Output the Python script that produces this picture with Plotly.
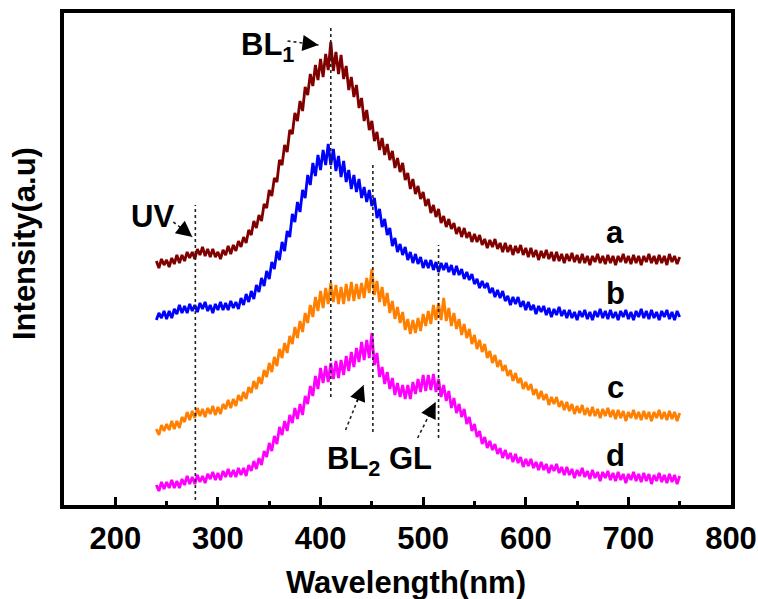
import plotly.graph_objects as go

# wavelength grid (nm), 2.5 nm step from 240 to 750
wavelength = [240 + 2.5 * i for i in range(205)]

curve_a = [244, 237, 246, 240, 245, 238, 247, 241, 250, 242, 250, 244, 253, 247, 253, 246, 256, 250, 258, 249,
           256, 248, 256, 248, 253, 246, 255, 250, 259, 251, 260, 254, 264, 258, 268, 262, 275, 270, 284, 277,
           290, 284, 301, 297, 315, 309, 327, 323, 345, 340, 360, 353, 375, 371, 392, 384, 404, 394, 418, 410,
           431, 419, 440, 425, 446, 428, 451, 435, 463, 434, 453, 431, 450, 426, 439, 415, 428, 408, 420, 397,
           407, 384, 395, 375, 384, 364, 373, 355, 367, 350, 361, 345, 354, 337, 347, 333, 342, 325, 332, 316,
           326, 311, 319, 306, 313, 299, 306, 292, 300, 288, 296, 282, 289, 278, 286, 276, 282, 271, 278, 268,
           277, 267, 273, 263, 271, 263, 270, 260, 266, 257, 265, 258, 266, 256, 262, 253, 262, 253, 260, 250,
           259, 252, 260, 250, 257, 248, 257, 248, 255, 245, 254, 247, 255, 246, 253, 244, 253, 244, 251, 242,
           251, 244, 252, 243, 250, 242, 251, 242, 249, 240, 249, 243, 251, 242, 249, 241, 250, 242, 249, 240,
           249, 243, 251, 242, 249, 241, 250, 242, 249, 240, 249, 243, 251, 242, 249, 241, 250, 242, 249, 240,
           251, 243, 249, 241, 248]

curve_b = [185, 192, 187, 194, 186, 194, 187, 196, 191, 200, 192, 199, 192, 201, 194, 200, 193, 202, 196, 203,
           194, 200, 192, 201, 195, 203, 195, 202, 195, 204, 197, 203, 196, 207, 200, 211, 203, 214, 206, 220,
           213, 227, 219, 234, 226, 243, 236, 254, 245, 263, 254, 274, 268, 291, 283, 303, 293, 315, 307, 330,
           320, 342, 329, 350, 335, 355, 340, 361, 340, 356, 334, 349, 328, 344, 323, 335, 316, 330, 313, 326,
           307, 318, 303, 315, 299, 307, 287, 296, 278, 286, 270, 277, 259, 267, 253, 261, 250, 258, 245, 253,
           242, 251, 241, 248, 237, 245, 237, 245, 235, 243, 233, 242, 235, 242, 233, 240, 230, 239, 230, 236,
           226, 233, 225, 231, 221, 226, 217, 224, 217, 222, 212, 217, 208, 215, 207, 214, 204, 209, 200, 208,
           201, 208, 198, 204, 195, 203, 195, 200, 191, 199, 193, 199, 190, 197, 188, 196, 190, 198, 189, 195,
           187, 195, 187, 193, 185, 194, 188, 195, 186, 193, 185, 194, 188, 196, 187, 194, 186, 195, 187, 193,
           185, 194, 188, 195, 186, 193, 185, 194, 188, 196, 187, 194, 186, 195, 187, 193, 185, 194, 188, 195,
           186, 193, 185, 194, 188]

curve_c = [76, 70, 80, 74, 81, 75, 84, 76, 84, 77, 88, 83, 93, 85, 94, 87, 97, 89, 96, 88,
           97, 91, 99, 90, 98, 91, 101, 96, 105, 97, 106, 99, 110, 104, 113, 106, 118, 112, 124, 116,
           128, 121, 135, 128, 142, 133, 148, 139, 156, 147, 162, 152, 169, 161, 178, 167, 184, 173, 192, 182,
           200, 188, 208, 194, 214, 197, 217, 201, 222, 203, 220, 201, 218, 201, 221, 204, 223, 204, 221, 206,
           222, 207, 227, 212, 236, 210, 224, 203, 218, 199, 212, 192, 204, 186, 198, 182, 193, 175, 186, 171,
           185, 172, 187, 174, 191, 179, 194, 181, 200, 185, 202, 185, 207, 184, 197, 179, 192, 176, 186, 170,
           181, 167, 176, 161, 170, 156, 165, 153, 161, 147, 154, 142, 150, 138, 145, 134, 140, 129, 135, 124,
           132, 122, 127, 116, 123, 115, 121, 110, 116, 106, 114, 105, 111, 100, 108, 101, 108, 98, 104, 95,
           103, 94, 101, 91, 99, 92, 100, 90, 97, 89, 98, 89, 96, 87, 96, 89, 97, 88, 95, 86,
           95, 87, 94, 84, 93, 87, 95, 86, 93, 85, 94, 86, 93, 84, 93, 87, 95, 86, 93, 85,
           94, 86, 93, 84, 92]

curve_d = [20, 14, 23, 16, 23, 17, 25, 17, 24, 17, 26, 20, 29, 21, 28, 21, 30, 23, 29, 22,
           31, 26, 33, 25, 32, 25, 34, 28, 36, 28, 35, 28, 37, 30, 37, 29, 40, 34, 44, 36,
           47, 40, 54, 48, 62, 54, 69, 61, 78, 70, 84, 74, 90, 82, 97, 86, 101, 90, 109, 101,
           119, 109, 129, 116, 137, 122, 139, 123, 142, 126, 144, 127, 145, 130, 149, 134, 153, 138, 157, 143,
           163, 145, 165, 147, 172, 140, 152, 128, 138, 121, 133, 116, 127, 110, 122, 108, 120, 106, 120, 106,
           123, 111, 126, 113, 130, 114, 130, 115, 131, 113, 126, 108, 120, 104, 114, 97, 107, 92, 101, 88,
           96, 81, 88, 74, 81, 68, 74, 61, 68, 57, 64, 55, 61, 51, 57, 47, 55, 46, 52, 43,
           51, 42, 48, 38, 46, 39, 46, 37, 43, 35, 43, 35, 41, 32, 40, 34, 41, 32, 38, 30,
           38, 30, 36, 27, 35, 29, 37, 28, 34, 26, 35, 27, 33, 24, 33, 27, 34, 25, 32, 24,
           33, 25, 31, 22, 31, 25, 33, 24, 31, 23, 32, 24, 31, 21, 30, 24, 32, 23, 30, 22,
           31, 23, 30, 21, 29]

series = [("a", curve_a, "#800000"), ("b", curve_b, "#0000FF"),
          ("c", curve_c, "#FF8000"), ("d", curve_d, "#FF00FF")]

x_ticks = [200, 300, 400, 500, 600, 700, 800]
x_tick_labels = ["200", "300", "400", "500", "600", "700", "800"]

# dotted marker lines: (x, y_bottom, y_top)
marker_lines = [(278, 5, 300), (410, 108, 477), (451, 73, 340), (515, 67, 260)]
# arrows: (tail_x, tail_y, tip_x, tip_y)
arrows = [(367.8, 464, 398.0, 460), (256.6, 283, 275.1, 268),
          (424.4, 75, 442.0, 120), (494.6, 67, 512.2, 103)]

FONT = "Arial, 'Liberation Sans', sans-serif"

fig = go.Figure()
for name, vals, col in series:
    fig.add_trace(go.Scatter(x=wavelength[:len(vals)], y=vals, mode="lines", name=name,
                             line=dict(color=col, width=2.8), showlegend=False))

for xv, y0, y1 in marker_lines:
    fig.add_shape(type="line", x0=xv, x1=xv, y0=y0, y1=y1, xref="x", yref="y",
                  line=dict(color="#222222", width=1.6, dash="dot"))

for tx, ty, hx, hy in arrows:
    fig.add_shape(type="line", x0=tx, y0=ty, x1=hx, y1=hy, xref="x", yref="y",
                  line=dict(color="#222222", width=1.6, dash="dot"))
    fx = tx + (hx - tx) * 0.6
    fy = ty + (hy - ty) * 0.6
    fig.add_annotation(x=hx, y=hy, ax=fx, ay=fy, xref="x", yref="y", axref="x", ayref="y",
                       text="", showarrow=True, arrowhead=2, arrowsize=2,
                       arrowwidth=1.6, arrowcolor="black")

lab_font = dict(family=FONT, size=31, color="black", weight="bold")
labels = [("a", 687, 273), ("b", 687, 212), ("c", 687, 118), ("d", 687, 50),
          ("UV", 236, 289)]
for t, xv, yv in labels:
    fig.add_annotation(x=xv, y=yv, xref="x", yref="y", text=t, showarrow=False,
                       font=lab_font, xanchor="center", yanchor="middle")

fig.add_annotation(x=321, y=458, xref="x", yref="y", text="BL<sub>1</sub>", showarrow=False,
                   font=lab_font, xanchor="left", yanchor="middle")
fig.add_annotation(x=404, y=44, xref="x", yref="y", text="BL<sub>2</sub> GL", showarrow=False,
                   font=lab_font, xanchor="left", yanchor="middle")

fig.add_annotation(x=0.513, y=-0.1585, xref="paper", yref="paper", text="Wavelength(nm)",
                   showarrow=False, font=lab_font, xanchor="center", yanchor="middle")
fig.add_annotation(x=-0.060, y=0.5325, xref="paper", yref="paper", text="Intensity(a.u)",
                   showarrow=False, font=lab_font, textangle=-90,
                   xanchor="center", yanchor="middle")

fig.update_xaxes(range=[150, 800], tickvals=x_ticks, ticktext=x_tick_labels,
                 ticks="inside", ticklen=8, tickwidth=3, tickcolor="black",
                 minor=dict(dtick=50, tick0=150, ticks="inside", ticklen=4, tickwidth=3,
                            tickcolor="black"),
                 showline=True, linewidth=4, linecolor="black", mirror=True,
                 showgrid=False, zeroline=False, automargin=False,
                 tickfont=dict(family=FONT, size=31, color="black", weight="bold"),
                 ticklabelstandoff=3)
fig.update_yaxes(range=[0, 492], showticklabels=False, ticks="",
                 showline=True, linewidth=4, linecolor="black", mirror=True,
                 showgrid=False, zeroline=False, automargin=False)

fig.update_layout(width=758, height=599, margin=dict(l=64, r=27, t=13, b=94, autoexpand=False),
                  plot_bgcolor="white", paper_bgcolor="white")

fig.write_html("out.html", config={"displayModeBar": False},
               post_script="document.body.style.margin='0';document.body.style.overflow='hidden';")
